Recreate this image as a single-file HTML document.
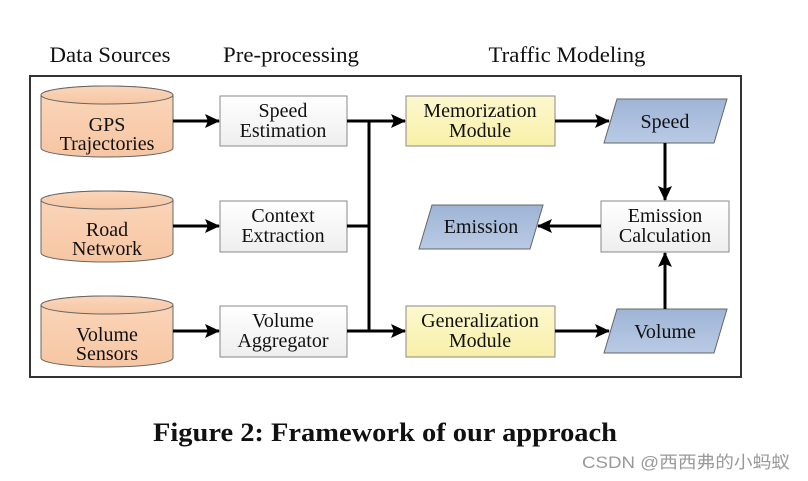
<!DOCTYPE html>
<html><head><meta charset="utf-8"><style>
html,body{margin:0;padding:0;background:#fff;}
svg{display:block;}
text{font-family:"Liberation Serif",serif;fill:#111;}
</style></head><body>
<svg width="808" height="481" viewBox="0 0 808 481" xmlns="http://www.w3.org/2000/svg">
<defs>
<linearGradient id="org" x1="0" y1="0" x2="0" y2="1"><stop offset="0" stop-color="#fbd6bb"/><stop offset="1" stop-color="#f6c6a3"/></linearGradient>
<linearGradient id="yel" x1="0" y1="0" x2="0" y2="1"><stop offset="0" stop-color="#fdf8cf"/><stop offset="1" stop-color="#f8f0a8"/></linearGradient>
<linearGradient id="blu" x1="0" y1="0" x2="0" y2="1"><stop offset="0" stop-color="#9fb4d6"/><stop offset="1" stop-color="#b9cae4"/></linearGradient>
<linearGradient id="wht" x1="0" y1="0" x2="0" y2="1"><stop offset="0" stop-color="#ffffff"/><stop offset="1" stop-color="#eeeeee"/></linearGradient>
<marker id="ah" markerWidth="15" markerHeight="14" refX="14" refY="7" orient="auto" markerUnits="userSpaceOnUse"><path d="M0,0 L15,7 L0,14 L3,7 Z" fill="#000"/></marker>
</defs>
<g font-size="22" text-anchor="middle">
<text x="110" y="62" textLength="121" lengthAdjust="spacingAndGlyphs">Data Sources</text>
<text x="291" y="62" textLength="136" lengthAdjust="spacingAndGlyphs">Pre-processing</text>
<text x="567" y="62" textLength="157" lengthAdjust="spacingAndGlyphs">Traffic Modeling</text>
</g>
<rect x="30" y="76" width="711" height="301" fill="none" stroke="#333" stroke-width="2"/>
<g stroke="#666" stroke-width="1" fill="url(#org)">
<path d="M41,95 L41,148 A66,9 0 0 0 173,148 L173,95 A66,9 0 0 0 41,95 Z"/><ellipse cx="107" cy="95" rx="66" ry="9"/>
<path d="M41,200 L41,253 A66,9 0 0 0 173,253 L173,200 A66,9 0 0 0 41,200 Z"/><ellipse cx="107" cy="200" rx="66" ry="9"/>
<path d="M41,305 L41,358 A66,9 0 0 0 173,358 L173,305 A66,9 0 0 0 41,305 Z"/><ellipse cx="107" cy="305" rx="66" ry="9"/>
</g>
<g font-size="20" text-anchor="middle">
<text x="107" y="131">GPS</text><text x="107" y="150">Trajectories</text>
<text x="107" y="236">Road</text><text x="107" y="255">Network</text>
<text x="107" y="341">Volume</text><text x="107" y="360">Sensors</text>
</g>
<g stroke="#888" stroke-width="1" fill="url(#wht)">
<rect x="220" y="96" width="127" height="50"/>
<rect x="220" y="201" width="127" height="51"/>
<rect x="220" y="306" width="127" height="51"/>
<rect x="601" y="201" width="128" height="51"/>
</g>
<g stroke="#888" stroke-width="1" fill="url(#yel)">
<rect x="406" y="96" width="149" height="50"/>
<rect x="406" y="306" width="149" height="51"/>
</g>
<g stroke="#666" stroke-width="1" fill="url(#blu)">
<polygon points="617,99 727,99 714,143 604,143"/>
<polygon points="617,309 727,309 714,353 604,353"/>
<polygon points="432,205 543,205 530,249 419,249"/>
</g>
<g font-size="20" text-anchor="middle">
<text x="283" y="117">Speed</text><text x="283" y="137">Estimation</text>
<text x="283" y="222">Context</text><text x="283" y="242">Extraction</text>
<text x="283" y="327">Volume</text><text x="283" y="347">Aggregator</text>
<text x="480" y="117">Memorization</text><text x="480" y="137">Module</text>
<text x="480" y="327">Generalization</text><text x="480" y="347">Module</text>
<text x="665" y="128">Speed</text>
<text x="665" y="338">Volume</text>
<text x="481" y="233">Emission</text>
<text x="665" y="222">Emission</text><text x="665" y="242">Calculation</text>
</g>
<g stroke="#000" stroke-width="3" fill="none">
<line x1="173" y1="121" x2="219" y2="121" marker-end="url(#ah)"/>
<line x1="173" y1="226" x2="219" y2="226" marker-end="url(#ah)"/>
<line x1="173" y1="331" x2="219" y2="331" marker-end="url(#ah)"/>
<line x1="347" y1="121" x2="369" y2="121"/>
<line x1="347" y1="226" x2="369" y2="226"/>
<line x1="347" y1="331" x2="369" y2="331"/>
<line x1="369" y1="120" x2="369" y2="332"/>
<line x1="369" y1="121" x2="405" y2="121" marker-end="url(#ah)"/>
<line x1="369" y1="331" x2="405" y2="331" marker-end="url(#ah)"/>
<line x1="555" y1="121" x2="609" y2="121" marker-end="url(#ah)"/>
<line x1="555" y1="331" x2="609" y2="331" marker-end="url(#ah)"/>
<line x1="665" y1="143" x2="665" y2="200" marker-end="url(#ah)"/>
<line x1="665" y1="309" x2="665" y2="253" marker-end="url(#ah)"/>
<line x1="601" y1="226" x2="538" y2="226" marker-end="url(#ah)"/>
</g>
<text x="385" y="441" font-size="26" font-weight="bold" text-anchor="middle" textLength="464" lengthAdjust="spacingAndGlyphs">Figure 2: Framework of our approach</text>
<text x="582" y="468" font-size="17" textLength="208" lengthAdjust="spacingAndGlyphs" style="font-family:'Liberation Sans','Noto Sans CJK SC',sans-serif;fill:#999">CSDN @西西弗的小蚂蚁</text>
</svg>
</body></html>
